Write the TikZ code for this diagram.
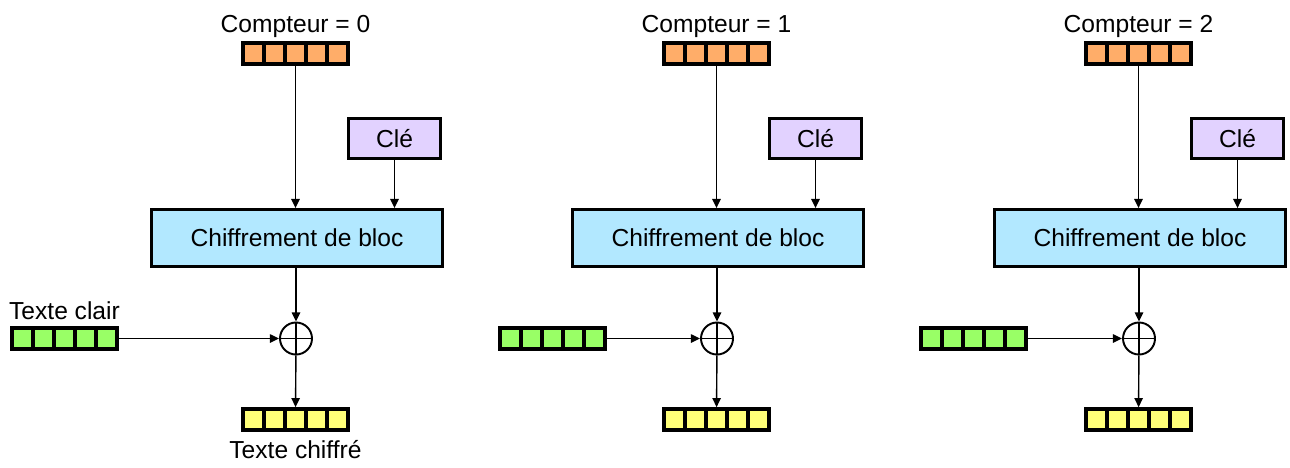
\documentclass[tikz,border=0pt]{standalone}
\usepackage{fontspec}
\setmainfont{Liberation Sans}
\usetikzlibrary{arrows.meta,calc,positioning}
\definecolor{cntcol}{RGB}{255,173,105}
\definecolor{ptcol}{RGB}{153,255,102}
\definecolor{ctcol}{RGB}{255,255,120}
\definecolor{keycol}{RGB}{226,210,255}
\definecolor{enccol}{RGB}{178,232,255}
\tikzset{
  reg/.style={draw,line width=2.1pt,minimum width=2.1cm,minimum height=0.42cm,inner sep=0pt,
    path picture={\foreach \k in {1,...,4}
      \draw[line width=2.1pt] ($(path picture bounding box.north west)!\k/5!(path picture bounding box.north east)$)
        -- ($(path picture bounding box.south west)!\k/5!(path picture bounding box.south east)$);}},
  keybox/.style={draw,line width=1.9pt,fill=keycol,minimum width=1.83cm,minimum height=0.79cm},
  encbox/.style={draw,line width=1.9pt,fill=enccol,minimum width=5.81cm,minimum height=1.13cm},
  xorc/.style={circle,draw,line width=1.1pt,minimum size=0.64cm,inner sep=0pt,
    path picture={\draw[line width=0.8pt] (path picture bounding box.north) -- (path picture bounding box.south)
      (path picture bounding box.west) -- (path picture bounding box.east);}},
  arr/.style={-{Triangle[length=5.2pt,width=4.8pt]},line width=0.8pt}
}
% #1 counter value, #2 panel offset, #3 x of the plaintext register
\newcommand{\ctrpanel}[3]{%
  \node[reg,fill=cntcol] (cnt#1) at (#2+295.5,53.5) {};
  \node[above=0pt of cnt#1,inner sep=2pt] (lab#1) {Compteur = #1};
  \node[keybox] (key#1) at (#2+394.5,138.5) {Clé};
  \node[encbox] (enc#1) at (#2+297,238) {Chiffrement de bloc};
  \node[xorc] (xor#1) at (#2+296,338.5) {};
  \node[reg,fill=ptcol] (pt#1) at (#3,338.5) {};
  \node[reg,fill=ctcol] (ct#1) at (#2+295.5,419.5) {};
  \draw[arr] (cnt#1) -- (cnt#1 |- enc#1.north);
  \draw[arr] (key#1) -- (key#1 |- enc#1.north);
  \draw[arr] (xor#1 |- enc#1.south) -- (xor#1);
  \draw[arr] (pt#1) -- (xor#1);
  \draw[arr] (xor#1) -- (ct#1);
}

\begin{document}
\begin{tikzpicture}[x=0.02cm,y=-0.02cm,font=\fontsize{14}{16}\selectfont]
	\useasboundingbox (0,0) rectangle (1290,467);
	\ctrpanel{0}{0}{64.5} \ctrpanel{1}{421}{552.5} \ctrpanel{2}{843}{973.5}
	\node[above=0pt of pt0] (ptlab) {Texte clair};
	\node[below=1.5pt of ct0] (ctlab) {Texte chiffré};
\end{tikzpicture}
\end{document}
